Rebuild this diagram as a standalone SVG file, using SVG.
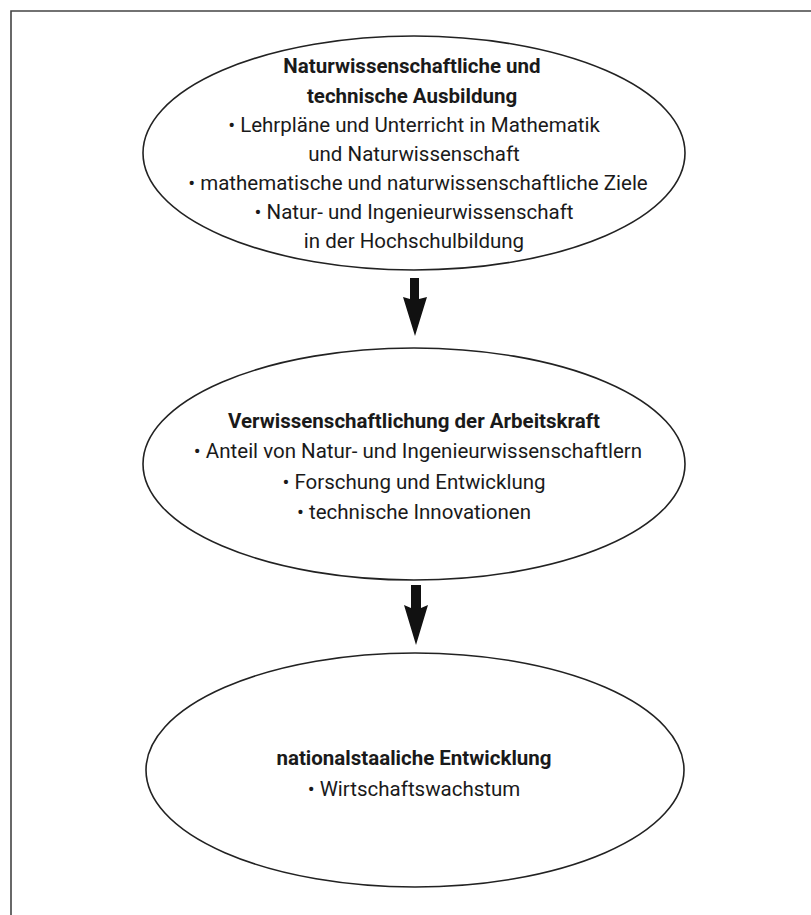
<svg xmlns="http://www.w3.org/2000/svg" width="811" height="915" viewBox="0 0 811 915">
<style>
.frame{fill:none;stroke:#444;stroke-width:1.6}
.node{fill:#fff;stroke:#222;stroke-width:1.6}
text{font-family:Roboto,"Liberation Sans",sans-serif;font-size:20.5px;fill:#1a1a1a;text-anchor:middle}
.b{font-weight:bold}
.arrow{fill:#111;stroke:none}
</style>
<rect width="811" height="915" fill="#fff"/>
<path class="frame" d="M11,925 L11,11 L825,11"/>
<g id="node1">
<ellipse class="node" cx="414" cy="153" rx="271" ry="117"/>
<text class="b" x="412" y="73">Naturwissenschaftliche und</text>
<text class="b" x="412" y="103">technische Ausbildung</text>
<text x="414" y="132">• Lehrpläne und Unterricht in Mathematik</text>
<text x="414" y="161">und Naturwissenschaft</text>
<text x="418" y="190">• mathematische und naturwissenschaftliche Ziele</text>
<text x="414" y="219">• Natur- und Ingenieurwissenschaft</text>
<text x="414" y="248">in der Hochschulbildung</text>
</g>
<g id="node2">
<ellipse class="node" cx="414" cy="464" rx="271" ry="116"/>
<text class="b" x="414" y="428">Verwissenschaftlichung der Arbeitskraft</text>
<text x="418" y="458">• Anteil von Natur- und Ingenieurwissenschaftlern</text>
<text x="414" y="489">• Forschung und Entwicklung</text>
<text x="414" y="519">• technische Innovationen</text>
</g>
<g id="node3">
<ellipse class="node" cx="415" cy="770" rx="269" ry="117"/>
<text class="b" x="414" y="765">nationalstaaliche Entwicklung</text>
<text x="414" y="796">• Wirtschaftswachstum</text>
</g>
<g id="connectors">
<path class="arrow" d="M410,278 L419,278 L419,299 L427,297 L415,336 L403,297 L410,299 Z"/>
<path class="arrow" d="M411,585 L421,585 L421,608 L428,605 L416,645 L404,605 L411,608 Z"/>
</g>
</svg>
